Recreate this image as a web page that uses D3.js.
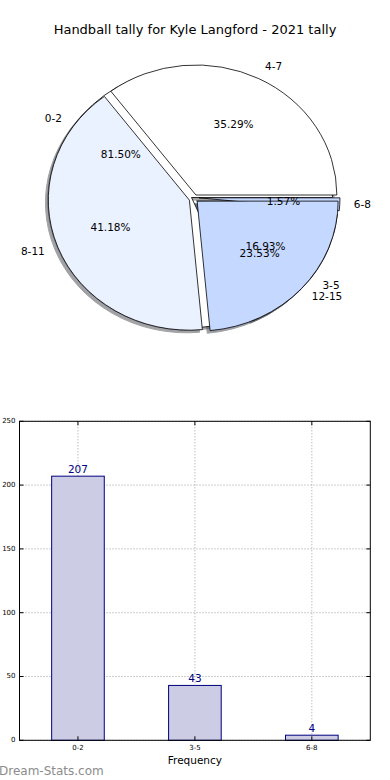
<!DOCTYPE html>
<html>
<head>
<meta charset="utf-8">
<script src="https://cdn.jsdelivr.net/npm/d3@7"></script>
<style>
  body { margin: 0; background: #fff; }
  svg { display: block; font-family: "DejaVu Sans", sans-serif; }
</style>
</head>
<body>
<svg id="chart" width="390" height="780"></svg>
<script>
// ---- data ----
const title = "Handball tally for Kyle Langford - 2021 tally";
const pie1Labels = ["0-2", "3-5", "6-8"];
const pie1Values = [207, 43, 4];
const pie2Labels = ["4-7", "8-11", "12-15"];
const pie2Values = [6, 7, 4];
const barCategories = ["0-2", "3-5", "6-8"];
const barValues = [207, 43, 4];
const yTicks = [0, 50, 100, 150, 200, 250];
const xLabel = "Frequency";
const watermark = "Dream-Stats.com";

// ---- styles ----
const pieColors = ["#ffffff", "#eaf1ff", "#c5d8ff"];
const pie1Explode = [0, 0.05, 0.053];
const pie2Explode = [0.03, 0.035, 0.03];
const rx = 141, ry = 130;

const svg = d3.select("#chart");

svg.append("text")
  .attr("x", 195).attr("y", 30)
  .attr("text-anchor", "middle")
  .attr("dominant-baseline", "middle")
  .style("font-size", "13px")
  .text(title);

const arcGen = d3.arc().innerRadius(0).outerRadius(1);
const pieGen = d3.pie().sort(null).startAngle(Math.PI / 2).endAngle(Math.PI / 2 - 2 * Math.PI);

function prep(values, labels, explode, cx, cy) {
  const total = d3.sum(values);
  return pieGen(values).map((d, i) => {
    const m = (d.startAngle + d.endAngle) / 2;
    const ox = cx + explode[i] * rx * Math.sin(m);
    const oy = cy - explode[i] * ry * Math.cos(m);
    return { d, i, m, ox, oy, label: labels[i], pct: (100 * values[i] / total).toFixed(2) + "%" };
  });
}

const p1 = prep(pie1Values, pie1Labels, pie1Explode, 191.5, 197.5);
const p2 = prep(pie2Values, pie2Labels, pie2Explode, 194, 198.5);

const gPie = svg.append("g");
const shadowOff = [-0.02 * rx, 0.02 * ry];

function shadowColor(c) {
  const col = d3.rgb(c);
  return d3.rgb(col.r * 0.3, col.g * 0.3, col.b * 0.3).toString();
}

[p1, p2].forEach(P => {
  P.forEach(w => {
    gPie.append("path")
      .attr("d", arcGen(w.d))
      .attr("transform", `translate(${w.ox + shadowOff[0]},${w.oy + shadowOff[1]}) scale(${rx},${ry})`)
      .attr("fill", shadowColor(pieColors[w.i]))
      .attr("stroke", shadowColor(pieColors[w.i]))
      .attr("stroke-width", 1)
      .attr("vector-effect", "non-scaling-stroke")
      .attr("opacity", 0.5);
  });
});
[p1, p2].forEach(P => {
  P.forEach(w => {
    gPie.append("path")
      .attr("d", arcGen(w.d))
      .attr("transform", `translate(${w.ox},${w.oy}) scale(${rx},${ry})`)
      .attr("fill", pieColors[w.i])
      .attr("stroke", "#000")
      .attr("stroke-width", 0.8)
      .attr("stroke-linejoin", "round")
      .attr("vector-effect", "non-scaling-stroke");
  });
});
[p1, p2].forEach(P => {
  P.forEach(w => {
    const lx = w.ox + 1.1 * rx * Math.sin(w.m);
    const ly = w.oy - 1.1 * ry * Math.cos(w.m);
    gPie.append("text")
      .attr("x", lx).attr("y", ly)
      .attr("text-anchor", Math.sin(w.m) > 0 ? "start" : "end")
      .attr("dominant-baseline", "middle")
      .style("font-size", "10.5px")
      .text(w.label);
    const px = w.ox + 0.6 * rx * Math.sin(w.m);
    const py = w.oy - 0.6 * ry * Math.cos(w.m);
    gPie.append("text")
      .attr("x", px).attr("y", py)
      .attr("text-anchor", "middle")
      .attr("dominant-baseline", "middle")
      .style("font-size", "10.5px")
      .text(w.pct);
  });
});

// ---- bar chart ----
const axL = 19.5, axR = 370.3, axT = 421.3, axB = 740.3;
const x = d3.scaleLinear().domain([-0.5, 2.5]).range([axL, axR]);
const y = d3.scaleLinear().domain([0, 250]).range([axB, axT]);
const bw = 0.45;
const gB = svg.append("g");

gB.selectAll(".hg").data(yTicks).enter().append("line")
  .attr("x1", axL).attr("x2", axR)
  .attr("y1", d => y(d)).attr("y2", d => y(d))
  .attr("stroke", "#888").attr("stroke-width", 0.8)
  .attr("stroke-dasharray", "1,2");
gB.selectAll(".vg").data(barCategories).enter().append("line")
  .attr("x1", (d, i) => x(i)).attr("x2", (d, i) => x(i))
  .attr("y1", axT).attr("y2", axB)
  .attr("stroke", "#888").attr("stroke-width", 0.8)
  .attr("stroke-dasharray", "1,2");

gB.selectAll(".bar").data(barValues).enter().append("rect")
  .attr("x", (d, i) => x(i - bw / 2))
  .attr("width", x(bw) - x(0))
  .attr("y", d => y(d))
  .attr("height", d => axB - y(d))
  .attr("fill", "#ccccE5")
  .attr("stroke", "#000080")
  .attr("stroke-width", 1);

gB.selectAll(".vl").data(barValues).enter().append("text")
  .attr("x", (d, i) => x(i))
  .attr("y", d => y(d) - 3.5)
  .attr("text-anchor", "middle")
  .attr("fill", "#000080")
  .style("font-size", "10.5px")
  .text(d => d);

gB.append("rect")
  .attr("x", axL).attr("y", axT)
  .attr("width", axR - axL).attr("height", axB - axT)
  .attr("fill", "none").attr("stroke", "#000").attr("stroke-width", 1);

yTicks.forEach(t => {
  gB.append("line").attr("x1", axL).attr("x2", axL + 4).attr("y1", y(t)).attr("y2", y(t)).attr("stroke", "#000");
  gB.append("line").attr("x1", axR - 4).attr("x2", axR).attr("y1", y(t)).attr("y2", y(t)).attr("stroke", "#000");
});
barCategories.forEach((c, i) => {
  gB.append("line").attr("x1", x(i)).attr("x2", x(i)).attr("y1", axB).attr("y2", axB - 4).attr("stroke", "#000");
  gB.append("line").attr("x1", x(i)).attr("x2", x(i)).attr("y1", axT).attr("y2", axT + 4).attr("stroke", "#000");
});

gB.selectAll(".yl").data(yTicks).enter().append("text")
  .attr("x", axL - 4).attr("y", d => y(d))
  .attr("text-anchor", "end").attr("dominant-baseline", "middle")
  .style("font-size", "7px")
  .text(d => d);
gB.selectAll(".xl").data(barCategories).enter().append("text")
  .attr("x", (d, i) => x(i)).attr("y", axB + 8)
  .attr("text-anchor", "middle").attr("dominant-baseline", "middle")
  .style("font-size", "7px")
  .text(d => d);

svg.append("text")
  .attr("x", (axL + axR) / 2).attr("y", 761)
  .attr("text-anchor", "middle").attr("dominant-baseline", "middle")
  .style("font-size", "10.5px")
  .text(xLabel);

svg.append("text")
  .attr("x", -1).attr("y", 771)
  .attr("dominant-baseline", "middle")
  .attr("fill", "#8c8c8c")
  .style("font-size", "12px")
  .style("font-weight", "normal")
  .text(watermark);
</script>
</body>
</html>
